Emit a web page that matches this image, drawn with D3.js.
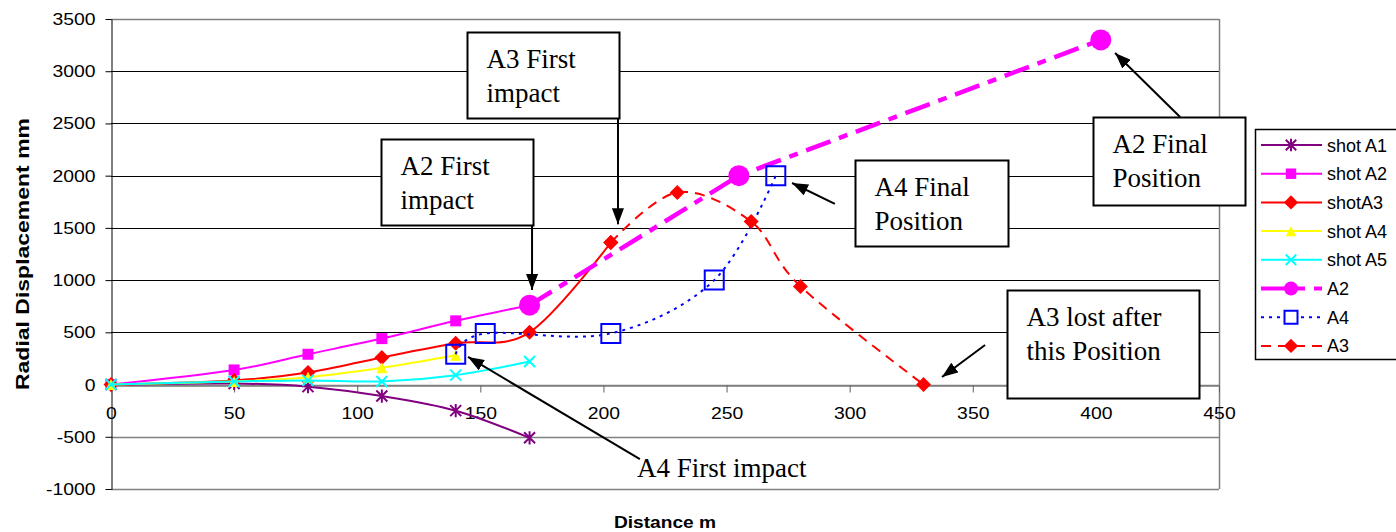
<!DOCTYPE html>
<html>
<head>
<meta charset="utf-8">
<script src="https://cdn.jsdelivr.net/npm/d3@7"></script>
<style>
body { margin: 0; background: #fff; }
text { font-family: "Liberation Sans", Arial, sans-serif; }
.note { font-family: "Liberation Serif", "Times New Roman", serif; font-size: 27px; }
</style>
</head>
<body>
<svg id="chart" width="1396" height="532"></svg>
<script>
// values: [distance m, radial displacement mm]
var shotA1 = [[0,0],[50,10],[80,-20],[110,-110],[140,-250],[170,-510]];
var shotA2 = [[0,0],[50,140],[80,290],[110,440],[140,610],[170,760]];
var shotA3 = [[0,0],[50,40],[80,115],[110,260],[140,395],[170,500],[203,1360]];
var shotA4 = [[0,0],[50,30],[80,70],[110,160],[140,280]];
var shotA5 = [[0,0],[50,30],[80,40],[110,30],[140,90],[170,220]];
var A2 = [[170,760],[255,2000],[402,3300]];
var A4 = [[140,290],[152,490],[203,490],[245,1000],[270,2000]];
var A3 = [[203,1360],[230,1840],[260,1560],[280,940],[330,0]];

var xTicks = [0,50,100,150,200,250,300,350,400,450];
var yTicks = [-1000,-500,0,500,1000,1500,2000,2500,3000,3500];

var seriesNames = ["shot A1","shot A2","shotA3","shot A4","shot A5","A2","A4","A3"];

var plotLeft = 111, plotRight = 1219, plotTop = 19, plotBottom = 489;
var stretch = 1.14; // the picture's text is a bit wider than tall

var svg = d3.select("#chart");
var x = d3.scaleLinear().domain([0,450]).range([plotLeft,plotRight]);
var y = d3.scaleLinear().domain([-1000,3500]).range([plotBottom,plotTop]);

// gridlines
svg.append("g").selectAll("line")
  .data(yTicks).enter().append("line")
  .attr("x1", plotLeft).attr("x2", plotRight)
  .attr("y1", function(d){ return Math.round(y(d)) + 0.5; })
  .attr("y2", function(d){ return Math.round(y(d)) + 0.5; })
  .attr("stroke", function(d){ return (d > 0 && d < 3500) ? "#000" : "#808080"; })
  .attr("stroke-width", function(d){ return (d > 0 && d < 3500) ? 1 : 1.5; });
svg.append("line")
  .attr("x1", plotRight + 0.5).attr("x2", plotRight + 0.5)
  .attr("y1", plotTop).attr("y2", plotBottom)
  .attr("stroke", "#808080").attr("stroke-width", 1.5);

// y axis
var yAxis = svg.append("g").attr("transform", "translate(" + (plotLeft + 0.5) + ",0)")
  .call(d3.axisLeft(y).tickValues(yTicks).tickSize(6).tickPadding(10).tickSizeOuter(0)
    .tickFormat(function(d){ return String(d); }));
yAxis.select(".domain").attr("stroke", "#000");
yAxis.selectAll("text").attr("font-size", 17).attr("fill", "#000")
  .attr("font-family", "Liberation Sans, Arial, sans-serif")
  .attr("x", -16 / stretch)
  .attr("transform", "scale(" + stretch + ",1)");

// x axis through zero
var xAxis = svg.append("g").attr("transform", "translate(0," + (Math.round(y(0)) + 0.5) + ")")
  .call(d3.axisBottom(x).tickValues(xTicks).tickSize(7).tickSizeOuter(0)
    .tickFormat(function(d){ return String(d); }));
xAxis.select(".domain").attr("stroke", "#808080").attr("stroke-width", 1.5);
xAxis.selectAll(".tick line").attr("stroke", "#606060");
xAxis.selectAll("text").attr("font-size", 17).attr("fill", "#000").attr("y", 21)
  .attr("font-family", "Liberation Sans, Arial, sans-serif")
  .attr("transform", "scale(" + stretch + ",1)");

// titles
svg.append("text")
  .attr("transform", "translate(29,254) rotate(-90)")
  .attr("text-anchor", "middle")
  .attr("font-size", 19).attr("font-weight", "bold")
  .attr("textLength", 272).attr("lengthAdjust", "spacingAndGlyphs")
  .text("Radial Displacement mm");
svg.append("text")
  .attr("x", 665).attr("y", 528)
  .attr("text-anchor", "middle")
  .attr("font-size", 17).attr("font-weight", "bold")
  .attr("textLength", 102).attr("lengthAdjust", "spacingAndGlyphs")
  .text("Distance m");

// marker shapes
function shape(type, s) {
  var h = s / 2;
  if (type === "square") return "M" + -h + "," + -h + "h" + s + "v" + s + "h" + -s + "Z";
  if (type === "diamond") return "M0," + -h + "L" + h + ",0L0," + h + "L" + -h + ",0Z";
  if (type === "triangle") return "M0," + -h + "L" + h + "," + h + "L" + -h + "," + h + "Z";
  if (type === "x") return "M" + -h + "," + -h + "L" + h + "," + h + "M" + -h + "," + h + "L" + h + "," + -h;
  if (type === "star") return "M" + -h + "," + -h + "L" + h + "," + h + "M" + -h + "," + h + "L" + h + "," + -h + "M0," + -h * 1.2 + "V" + h * 1.2;
  if (type === "circle") return "M" + h + ",0A" + h + "," + h + " 0 1,1 " + -h + ",0A" + h + "," + h + " 0 1,1 " + h + ",0Z";
  return "";
}

var series = [
  {name: seriesNames[0], data: shotA1, color: "#800080", width: 2, dash: null, mark: "star", size: 11, fill: "none", stroke: 2, smooth: true},
  {name: seriesNames[1], data: shotA2, color: "#ff00ff", width: 2, dash: null, mark: "square", size: 11, fill: "#ff00ff", stroke: 0, smooth: true},
  {name: seriesNames[2], data: shotA3, color: "#ff0000", width: 2, dash: null, mark: "diamond", size: 15, fill: "#ff0000", stroke: 0, smooth: true},
  {name: seriesNames[3], data: shotA4, color: "#ffff00", width: 2, dash: null, mark: "triangle", size: 11, fill: "#ffff00", stroke: 0, smooth: true},
  {name: seriesNames[4], data: shotA5, color: "#00ffff", width: 2, dash: null, mark: "x", size: 11, fill: "none", stroke: 2, smooth: true},
  {name: seriesNames[5], data: A2, color: "#ff00ff", width: 4.5, dash: "26,9,9,9", mark: "circle", size: 21, fill: "#ff00ff", stroke: 0, smooth: false},
  {name: seriesNames[6], data: A4, color: "#0000ff", width: 2, dash: "3,5", mark: "square", size: 19, fill: "none", stroke: 2, smooth: true},
  {name: seriesNames[7], data: A3, color: "#ff0000", width: 2, dash: "10,7", mark: "diamond", size: 15, fill: "#ff0000", stroke: 0, smooth: true}
];

var line = d3.line()
  .x(function(d){ return x(d[0]); })
  .y(function(d){ return y(d[1]); });

var plot = svg.append("g");
series.forEach(function(s) {
  var g = plot.append("g");
  g.append("path")
    .datum(s.data)
    .attr("d", line.curve(s.smooth ? d3.curveCardinal.tension(0) : d3.curveLinear))
    .attr("fill", "none")
    .attr("stroke", s.color)
    .attr("stroke-width", s.width)
    .attr("stroke-dasharray", s.dash);
  g.selectAll("path.m")
    .data(s.data).enter().append("path")
    .attr("class", "m")
    .attr("transform", function(d){ return "translate(" + x(d[0]) + "," + y(d[1]) + ")"; })
    .attr("d", shape(s.mark, s.size))
    .attr("fill", s.fill)
    .attr("stroke", s.stroke ? s.color : "none")
    .attr("stroke-width", s.stroke);
});

// annotations (positioned in data units)
var notes = [
  {lines: ["A3 First", "impact"], x: 144.6, y: 3375, w: 152, h: 86},
  {lines: ["A2 First", "impact"], x: 109.7, y: 2351, w: 152, h: 86},
  {lines: ["A2 Final", "Position"], x: 398.8, y: 2562, w: 152, h: 88},
  {lines: ["A4 Final", "Position"], x: 302.2, y: 2150, w: 153, h: 86},
  {lines: ["A3 lost after", "this Position"], x: 363.9, y: 905, w: 192, h: 108}
];
var arrows = [
  {from: [205.9, 2552], to: [205.9, 1534]},
  {from: [171.0, 1528], to: [171.0, 905]},
  {from: [434.2, 2562], to: [407.8, 3175]},
  {from: [294.0, 1729], to: [276.6, 1930]},
  {from: [355.0, 379], to: [337.5, 72]},
  {from: [214.8, -713], to: [145.0, 264]}
];

svg.append("defs").append("marker")
  .attr("id", "head")
  .attr("viewBox", "0 0 16 12")
  .attr("refX", 16).attr("refY", 6)
  .attr("markerWidth", 16).attr("markerHeight", 12)
  .attr("markerUnits", "userSpaceOnUse")
  .attr("orient", "auto")
  .append("path").attr("d", "M0,0L16,6L0,12Z").attr("fill", "#000");

var ng = svg.append("g");
notes.forEach(function(n) {
  var bx = Math.round(x(n.x)) + 0.5, by = Math.round(y(n.y)) + 0.5;
  ng.append("rect")
    .attr("x", bx).attr("y", by).attr("width", n.w).attr("height", n.h)
    .attr("fill", "#fff").attr("stroke", "#000").attr("stroke-width", 2);
  n.lines.forEach(function(t, i) {
    ng.append("text").attr("class", "note")
      .attr("x", bx + 19).attr("y", by + 35 + i * 34)
      .text(t);
  });
});
svg.append("text").attr("class", "note")
  .attr("x", x(213.6)).attr("y", y(-885))
  .text("A4 First impact");

svg.append("g").selectAll("line")
  .data(arrows).enter().append("line")
  .attr("x1", function(d){ return x(d.from[0]); })
  .attr("y1", function(d){ return y(d.from[1]); })
  .attr("x2", function(d){ return x(d.to[0]); })
  .attr("y2", function(d){ return y(d.to[1]); })
  .attr("stroke", "#000").attr("stroke-width", 2)
  .attr("marker-end", "url(#head)");

// legend
var lg = svg.append("g").attr("transform", "translate(1255,129)");
lg.append("rect").attr("x", 0.5).attr("y", 0.5).attr("width", 160).attr("height", 230)
  .attr("fill", "#fff").attr("stroke", "#000").attr("stroke-width", 1.5);
series.forEach(function(s, i) {
  var ly = 16 + i * 28.7;
  var it = lg.append("g").attr("transform", "translate(0," + ly + ")");
  it.append("line").attr("x1", 6).attr("x2", 67).attr("y1", 0).attr("y2", 0)
    .attr("stroke", s.color).attr("stroke-width", s.width === 4.5 ? 4 : 2)
    .attr("stroke-dasharray", s.dash);
  var ms = s.mark === "circle" ? 14 : (s.mark === "square" && s.fill === "none" ? 13 : s.size * 0.95);
  it.append("path")
    .attr("transform", "translate(36,0)")
    .attr("d", shape(s.mark, ms))
    .attr("fill", s.fill === "none" ? "#fff" : s.fill)
    .attr("stroke", s.stroke ? s.color : "none")
    .attr("stroke-width", s.stroke);
  it.append("text").attr("x", 72).attr("y", 6.5)
    .attr("font-size", 18).text(s.name);
});
</script>
</body>
</html>
